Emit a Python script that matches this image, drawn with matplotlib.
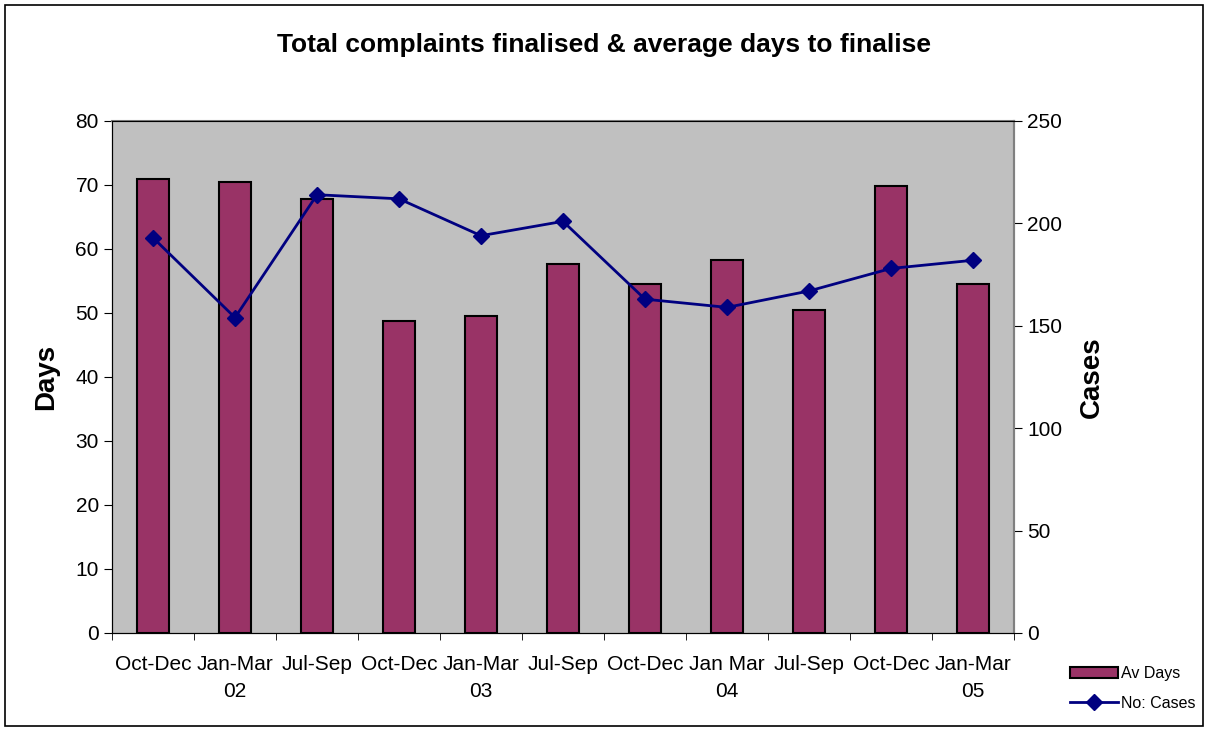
import matplotlib.pyplot as plt
import numpy as np
from matplotlib.patches import Rectangle

plt.rcParams['font.family'] = ['Liberation Sans', 'DejaVu Sans']

quarters = ['Oct-Dec', 'Jan-Mar\n02', 'Jul-Sep', 'Oct-Dec', 'Jan-Mar\n03', 'Jul-Sep',
            'Oct-Dec', 'Jan Mar\n04', 'Jul-Sep', 'Oct-Dec', 'Jan-Mar\n05']
av_days = [70.9, 70.4, 67.8, 48.7, 49.5, 57.7, 54.6, 58.3, 50.5, 69.8, 54.6]
no_cases = [193, 154, 214, 212, 194, 201, 163, 159, 167, 178, 182]

fig = plt.figure(figsize=(12.08, 7.31), dpi=100)
ax = fig.add_axes([112/1208, 98/731, 902/1208, 512/731])
ax.set_facecolor('#c0c0c0')

x = np.arange(len(quarters))
bars = ax.bar(x, av_days, width=0.4, color='#993366', edgecolor='black', linewidth=1.5,
              label='Av Days', zorder=2)
ax.set_xlim(-0.5, len(quarters) - 0.5)
ax.set_ylim(0, 80)
ax.set_yticks(range(0, 81, 10))
ax.set_xticks(x)
ax.set_xticklabels(quarters, fontsize=15, linespacing=1.5)
ax.tick_params(axis='x', which='major', length=0, pad=16)
ax.set_xticks(np.arange(-0.5, len(quarters), 1), minor=True)
ax.tick_params(axis='x', which='minor', length=5, direction='out')
ax.tick_params(axis='y', labelsize=15, length=6, direction='out')
ax.set_ylabel('Days', fontsize=20, fontweight='bold', labelpad=12)
for s in ['top', 'right']:
    ax.spines[s].set_color('#808080')
    ax.spines[s].set_linewidth(1.5)

ax2 = ax.twinx()
line, = ax2.plot(x, no_cases, color='#000080', marker='D', markersize=8, linewidth=2,
                 label='No: Cases', zorder=3)
ax2.set_ylim(0, 250)
ax2.set_yticks(range(0, 251, 50))
ax2.tick_params(axis='y', labelsize=15, length=6, direction='out')
ax2.set_ylabel('Cases', fontsize=20, fontweight='bold', labelpad=12)
ax2.spines['right'].set_color('#808080')
ax2.spines['right'].set_linewidth(1.5)

fig.suptitle('Total complaints finalised & average days to finalise', fontsize=19,
             fontweight='bold', y=0.955)

fig.legend([bars, line], ['Av Days', 'No: Cases'], loc='lower left',
           bbox_to_anchor=(1056/1208, 6/731), frameon=False, fontsize=11.5,
           handlelength=3, handletextpad=0.2, labelspacing=0.9)

fig.patches.append(Rectangle((5/1208, 5/731), 1198/1208, 721/731, transform=fig.transFigure,
                             fill=False, edgecolor='black', linewidth=1.2))

fig.savefig('out.png', dpi=100)
